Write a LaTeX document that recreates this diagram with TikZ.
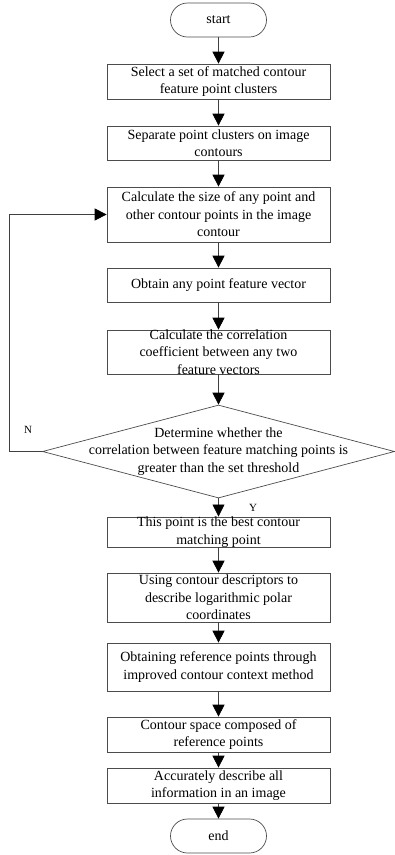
\documentclass[tikz,border=0pt]{standalone}
\usepackage{fontspec}
\setmainfont{Liberation Serif}
\usetikzlibrary{arrows.meta,shapes.geometric}
\tikzset{
  flow/.style={draw=black!75, line width=0.8pt, -{Triangle[width=12pt,length=12pt,color=black]}},
  box/.style={rectangle, draw=black!70, line width=0.7pt, inner sep=0pt, align=center,
    minimum width=223pt, minimum height=#1, font=\fontsize{14}{17.5}\selectfont},
  term/.style={rectangle, rounded corners=17pt, draw=black!70, line width=0.7pt, inner sep=0pt,
    minimum width=96pt, minimum height=34pt, font=\fontsize{14}{17.5}\selectfont},
  boxtext/.style={inner sep=0pt, align=center, font=\fontsize{14}{17.5}\selectfont},
  yn/.style={inner sep=0pt, font=\fontsize{11}{13}\selectfont}
}
\begin{document}
\begin{tikzpicture}[x=1pt, y=-1pt]
  \useasboundingbox (0,0) rectangle (395,855);
  % Nodes
  \node (start) [term] at (218.5, 20) {start};
  \node (b1) [box=35pt] at (218.5, 81.5) {Select a set of matched contour\\feature point clusters};
  \node (b2) [box=34pt] at (218.5, 143) {Separate point clusters on image\\contours};
  \node (b3) [box=55pt] at (218.5, 214.5) {Calculate the size of any point and\\other contour points in the image\\contour};
  \node (b4) [box=34pt] at (218.5, 285) {Obtain any point feature vector};
  \node (b5) [box=44pt, label={[boxtext]center:Calculate the correlation\\coefficient between any two\\feature vectors}] at (218.5, 352) {};
  \node (dec) [diamond, draw=black!70, line width=0.7pt, inner sep=0pt, minimum width=352pt, minimum height=93pt,
    label={[boxtext]center:Determine whether the\\correlation between feature matching points is\\greater than the set threshold}] at (218.5, 451.5) {};
  \node (b6) [box=30pt] at (218.5, 532) {This point is the best contour\\matching point};
  \node (b7) [box=49pt, label={[boxtext]center:Using contour descriptors to\\describe logarithmic polar\\coordinates}] at (218.5, 597.5) {};
  \node (b8) [box=48pt] at (218.5, 667) {Obtaining reference points through\\improved contour context method};
  \node (b9) [box=35pt] at (218.5, 734.5) {Contour space composed of\\reference points};
  \node (b10) [box=35pt] at (218.5, 785.5) {Accurately describe all\\information in an image};
  \node (end) [term] at (218.5, 836) {end};
  \coordinate (back) at (9, 451.5);
  % Arrows
  \draw[flow] (start) -- (b1);
  \draw[flow] (b1) -- (b2);
  \draw[flow] (b2) -- (b3);
  \draw[flow] (b3) -- (b4);
  \draw[flow] (b4) -- (b5);
  \draw[flow] (b5) -- (dec);
  \draw[flow] (dec) -- (b6);
  \draw[flow] (b6) -- (b7);
  \draw[flow] (b7) -- (b8);
  \draw[flow] (b8) -- (b9);
  \draw[flow] (b9) -- (b10);
  \draw[flow] (b10) -- (end);
  \draw[flow] (dec.west) -- (back) |- (b3.west);
  % Branch labels
  \node (no) [yn] at (28, 430) {N};
  \node (yes) [yn] at (253, 508) {Y};
\end{tikzpicture}
\end{document}
